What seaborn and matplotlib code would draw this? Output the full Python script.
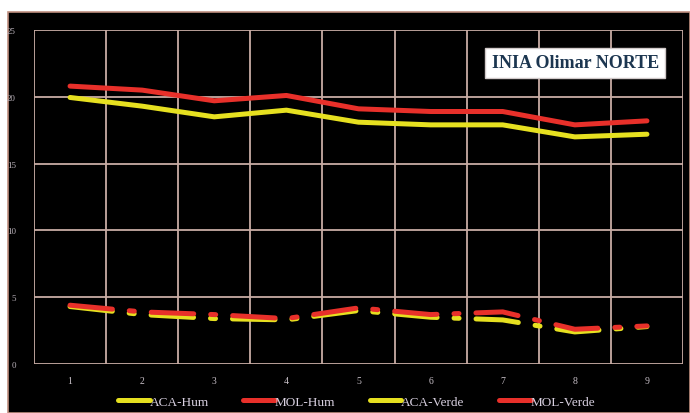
import matplotlib
matplotlib.use("Agg")
import matplotlib.pyplot as plt
import seaborn as sns
import pandas as pd
import numpy as np
from matplotlib.patches import Rectangle
from matplotlib.lines import Line2D

# Data
categories = [1, 2, 3, 4, 5, 6, 7, 8, 9]
aca_hum = [19.95, 19.3, 18.5, 19.0, 18.1, 17.9, 17.9, 17.0, 17.2]
mol_hum = [20.8, 20.5, 19.7, 20.1, 19.1, 18.9, 18.9, 17.9, 18.2]
aca_verde = [4.3, 3.7, 3.4, 3.3, 4.0, 3.5, 3.3, 2.4, 2.8]
mol_verde = [4.4, 3.9, 3.7, 3.4, 4.2, 3.7, 3.9, 2.6, 2.85]
series_names = ["ACA-Hum", "MOL-Hum", "ACA-Verde", "MOL-Verde"]
y_ticks = [0, 5, 10, 15, 20, 25]
title_text = "INIA Olimar NORTE"

sns.set_theme(style="dark")
plt.rcParams["font.family"] = ["Liberation Serif", "DejaVu Serif"]

df = pd.DataFrame({
    "x": categories * 4,
    "y": aca_hum + mol_hum + aca_verde + mol_verde,
    "serie": sum([[n] * len(categories) for n in series_names], []),
})

red = "#e8302a"
yellow = "#e6e020"
palette = {"ACA-Hum": yellow, "MOL-Hum": red, "ACA-Verde": yellow, "MOL-Verde": red}
dashes = {"ACA-Hum": "", "MOL-Hum": "", "ACA-Verde": (8.5, 3.4, 1.0, 3.4), "MOL-Verde": (8.5, 3.4, 1.0, 3.4)}

fig = plt.figure(figsize=(6.9, 4.14), dpi=100)
fig.patch.set_facecolor("white")
# black panel
panel = Rectangle((8 / 690, 0), 1 - 8 / 690, 1 - 13 / 414, transform=fig.transFigure,
                  facecolor="black", edgecolor="#c09080", linewidth=1.2, zorder=-10)
fig.add_artist(panel)

ax = fig.add_axes([34 / 690, 1 - 365 / 414, (683 - 34) / 690, (365 - 31) / 414])
ax.set_zorder(5)
ax.set_facecolor("black")

sns.lineplot(data=df, x="x", y="y", hue="serie", style="serie", palette=palette, dashes=dashes,
             hue_order=series_names, style_order=series_names, linewidth=3.6, ax=ax,
             sort=False, estimator=None, legend=False)
for ln in ax.lines:
    ln.set_solid_capstyle("round")
    ln.set_dash_capstyle("round")
    ln.set_solid_joinstyle("round")

grid_c = "#c8aca4"
ax.set_xlim(0.5, 9.5)
ax.set_ylim(0, 25)
ax.set_yticks(y_ticks)
ax.set_xticks(categories)
ax.set_xticks(np.arange(0.5, 10, 1), minor=True)
ax.grid(False)
ax.grid(True, which="minor", axis="x", color=grid_c, linewidth=1.3)
ax.grid(True, which="major", axis="y", color=grid_c, linewidth=1.3)
ax.set_axisbelow(True)
for s in ax.spines.values():
    s.set_visible(False)
ax.tick_params(axis="both", which="both", length=0)
ax.tick_params(axis="y", colors="#b8b0b8", labelsize=6.5, pad=13)
ax.tick_params(axis="x", colors="#c8c0c8", labelsize=7, pad=9)
ax.set_xlabel("")
ax.set_ylabel("")

hnd = [Line2D([0], [0], color=palette[n], linewidth=3.6) for n in series_names]
leg = ax.legend(hnd, series_names, loc="center", bbox_to_anchor=(0.497, -0.112), ncol=4,
                frameon=False, fontsize=9.5, handlelength=2.4, handletextpad=0.0, columnspacing=2.6,
                labelcolor="#d8d0e0")

ax.text(0.834, 0.902, title_text, transform=ax.transAxes, ha="center", va="center",
        fontsize=13, fontweight="bold", color="#1c3650",
        bbox=dict(boxstyle="square,pad=0.35", facecolor="white", edgecolor="#d0c8c8", linewidth=1))

fig.savefig("out.png", dpi=100, facecolor=fig.get_facecolor())
